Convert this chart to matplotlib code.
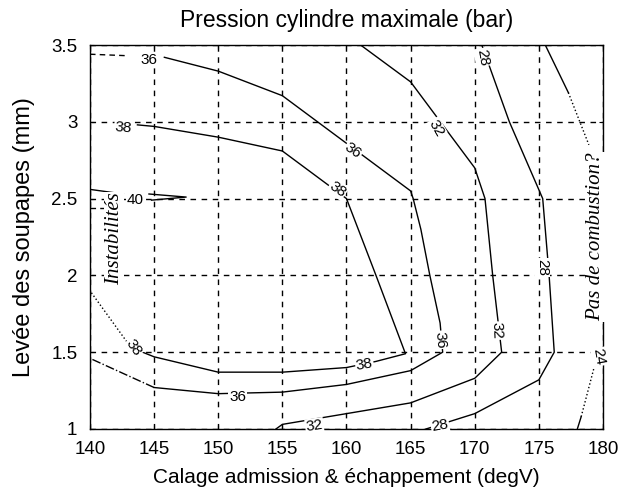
import matplotlib
matplotlib.use("Agg")
import matplotlib.pyplot as plt

plt.rcParams["font.family"] = ["Liberation Sans", "DejaVu Sans"]

# axis ticks
x_ticks = [140, 145, 150, 155, 160, 165, 170, 175, 180]
y_ticks = [1, 1.5, 2, 2.5, 3, 3.5]
y_tick_labels = ["1", "1.5", "2", "2.5", "3", "3.5"]

# iso-pressure lines (bar) as (calage degV, levee mm) vertices
c40_x = [140.0, 142.6]
c40_y = [2.56, 2.53]
c40_loop_x = [144.6, 147.5, 144.8]
c40_loop_y = [2.53, 2.51, 2.49]
c40_ext_x = [140.0, 142.4]
c40_ext_y = [2.44, 2.44]

c38_x = [143.7, 145, 150, 155, 160, 162.3, 164.6, 162.3, 160, 155, 150, 145, 143.2]
c38_y = [2.98, 2.97, 2.90, 2.81, 2.50, 2.00, 1.49, 1.44, 1.40, 1.37, 1.37, 1.47, 1.53]
c38_ext_x = [143.2, 140.0]
c38_ext_y = [1.53, 1.90]

c36_x = [145.8, 150, 155, 160, 165, 165.2, 165.8, 166.5, 167.3, 167.5,
         165, 160, 155, 150, 145]
c36_y = [3.42, 3.33, 3.17, 2.86, 2.55, 2.50, 2.30, 2.00, 1.69, 1.50,
         1.38, 1.29, 1.24, 1.23, 1.27]
c36_top_x = [140.0, 143.0]
c36_top_y = [3.44, 3.43]
c36_low_x = [145.0, 140.0]
c36_low_y = [1.27, 1.46]

c32_x = [161.1, 165, 170, 170.8, 171.4, 172.1, 170, 165, 160, 155, 154.5]
c32_y = [3.50, 3.26, 2.70, 2.50, 2.00, 1.50, 1.33, 1.17, 1.10, 1.03, 1.00]

c28_x = [170.55, 172.7, 175.3, 175.8, 176.2, 175, 170, 166.2]
c28_y = [3.50, 3.00, 2.50, 2.00, 1.50, 1.32, 1.10, 1.00]

c24_top_x = [175.5, 177.3]
c24_top_y = [3.50, 3.19]
c24_top_ext_x = [177.3, 178.9]
c24_top_ext_y = [3.19, 2.85]
c24_bot_x = [178.0, 178.3]
c24_bot_y = [1.00, 1.08]
c24_bot_ext_x = [178.3, 179.4]
c24_bot_ext_y = [1.08, 1.43]

# inline level labels: text, x, y, angle
contour_labels = [
    ("36", 144.6, 3.40, 0),
    ("38", 142.6, 2.96, -5),
    ("40", 143.5, 2.49, 0),
    ("38", 159.3, 2.56, -35),
    ("36", 160.5, 2.81, -35),
    ("32", 167.0, 2.96, -60),
    ("28", 170.6, 3.42, -80),
    ("38", 143.4, 1.53, -55),
    ("38", 161.4, 1.42, 10),
    ("36", 151.5, 1.21, 0),
    ("36", 167.3, 1.58, -85),
    ("32", 171.7, 1.64, -88),
    ("28", 175.3, 2.05, -90),
    ("32", 157.5, 1.02, 8),
    ("28", 167.3, 1.02, 10),
    ("24", 179.7, 1.47, -80),
]

fig = plt.figure(figsize=(6.18, 4.99), dpi=100)
ax = fig.add_axes([0.1456, 0.1403, 0.8301, 0.7695])

ax.grid(True, color="black", linestyle=(0, (4, 4)), linewidth=1.0, zorder=1)
ax.set_axisbelow(True)

line_kw = dict(color="black", linewidth=1.0, zorder=2)
ax.plot(c40_x, c40_y, **line_kw)
ax.plot(c40_loop_x, c40_loop_y, **line_kw)
ax.plot(c40_ext_x, c40_ext_y, linestyle=(0, (4, 3)), **line_kw)
ax.plot(c38_x, c38_y, **line_kw)
ax.plot(c38_ext_x, c38_ext_y, linestyle=":", **line_kw)
ax.plot(c36_x, c36_y, **line_kw)
ax.plot(c36_top_x, c36_top_y, linestyle=(0, (4, 3)), **line_kw)
ax.plot(c36_low_x, c36_low_y, linestyle="-.", **line_kw)
ax.plot(c32_x, c32_y, **line_kw)
ax.plot(c28_x, c28_y, **line_kw)
ax.plot(c24_top_x, c24_top_y, **line_kw)
ax.plot(c24_top_ext_x, c24_top_ext_y, linestyle=":", **line_kw)
ax.plot(c24_bot_x, c24_bot_y, **line_kw)
ax.plot(c24_bot_ext_x, c24_bot_ext_y, linestyle=":", **line_kw)

for txt, lx, ly, ang in contour_labels:
    ax.text(lx, ly, txt, fontsize=11, ha="center", va="center", rotation=ang,
            rotation_mode="anchor", zorder=3,
            bbox=dict(facecolor="white", edgecolor="none", pad=0.5))

# operating limits written on the map
ax.text(141.9, 2.24, "Instabilités", rotation=90, ha="center", va="center",
        family="Liberation Serif", style="italic", fontsize=15, zorder=3,
        bbox=dict(facecolor="white", edgecolor="none", pad=0.5))
ax.text(179.4, 2.25, "Pas de combustion?", rotation=90, ha="center", va="center",
        family="Liberation Serif", style="italic", fontsize=15, zorder=3,
        bbox=dict(facecolor="white", edgecolor="none", pad=0.5))

ax.set_xlim(140, 180)
ax.set_ylim(1, 3.5)
ax.set_xticks(x_ticks)
ax.set_yticks(y_ticks)
ax.set_xticklabels([str(v) for v in x_ticks])
ax.set_yticklabels(y_tick_labels)
ax.tick_params(direction="in", length=3, top=True, right=True,
               labelsize=13.5, pad=9)
for sp in ax.spines.values():
    sp.set_linewidth(1.0)

ax.set_title("Pression cylindre maximale (bar)", fontsize=16.5, pad=13)
ax.set_xlabel("Calage admission & échappement (degV)", fontsize=15, labelpad=7)
ax.set_ylabel("Levée des soupapes (mm)", fontsize=17, labelpad=12)

fig.savefig("out.png", dpi=100)
